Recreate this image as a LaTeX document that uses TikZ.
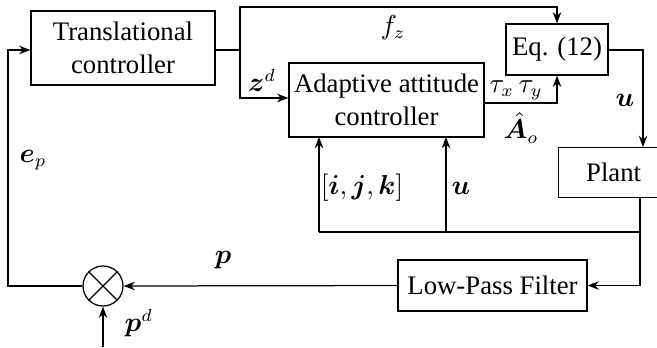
\documentclass[tikz,border=0pt]{standalone}
\usepackage{amsmath}
\usepackage{amssymb}
\usepackage{bm}
\usepackage{fontspec}
\setmainfont{Liberation Serif}
\usetikzlibrary{arrows.meta, positioning}

\begin{document}
\begin{tikzpicture}[
    x=0.4pt, y=-0.4pt,
    font=\fontsize{10.7}{13.2}\selectfont,
    block/.style={rectangle, draw, line width=0.5pt, align=center, inner sep=0pt},
    arrow/.style={-{Stealth[length=4.5pt, width=3.4pt]}, line width=0.5pt},
    wire/.style={line width=0.5pt},
    lbl/.style={inner sep=0pt},
]
    \useasboundingbox (0,0) rectangle (657,347);

    % blocks
    \node[block, minimum width=73.6pt, minimum height=29.6pt] (trans) at (123,48) {Translational\\controller};
    \node[block, minimum width=78pt, minimum height=29.6pt] (adapt) at (386.5,100) {Adaptive attitude\\controller};
    \node[block, minimum width=40.8pt, minimum height=20.4pt] (eq) at (557,49.5) {Eq. (12)};
    \node[block, minimum width=44pt, minimum height=20pt, anchor=north west] (plant) at (558,147) {Plant};
    \node[block, minimum width=75.6pt, minimum height=20.4pt] (lpf) at (492.5,285.5) {Low-Pass Filter};
    \node[circle, draw, line width=0.5pt, minimum size=16pt, inner sep=0pt] (sum) at (103,286) {};
    \draw[line width=0.5pt] (sum.north west) -- (sum.south east) (sum.north east) -- (sum.south west);

    % junctions
    \coordinate (split) at (240,50);
    \coordinate (tap) at (640,232);

    % forward path
    \draw[wire] (trans.east |- split) -- (split);
    \draw[arrow] (split) |- (240,7) -| (eq.north);
    \draw[arrow] (split) |- (adapt.west |- 0,98);
    \draw[arrow] (adapt.east |- 0,103) -| (eq.south);
    \draw[arrow] (eq.east |- 0,50) -| (plant.north -| 643,0);

    % feedback
    \draw[arrow] (plant.south -| tap) |- (lpf.east);
    \draw[wire] (tap) -- (319,232);
    \draw[arrow] (319,232) -- (319,137);
    \draw[arrow] (446,232) -- (446,137);
    \draw[arrow] (lpf.west) -- (sum.east);
    \draw[arrow] (sum.west) -| (8,50) -- (trans.west |- 0,50);
    \draw[arrow] (103,347) -- (sum.south);

    % labels
    \node[lbl] at (393,28) {$f_z$};
    \node[lbl] at (262,80) {$\bm{z}^d$};
    \node[lbl] at (516,90) {$\tau_x\,\tau_y$};
    \node[lbl] at (521,128) {$\hat{\bm{A}}_o$};
    \node[lbl] at (625,100) {$\bm{u}$};
    \node[lbl] at (33,160) {$\bm{e}_p$};
    \node[lbl] at (362,188) {$[\bm{i},\bm{j},\bm{k}]$};
    \node[lbl] at (461,188) {$\bm{u}$};
    \node[lbl] at (223,260) {$\bm{p}$};
    \node[lbl] at (139,323) {$\bm{p}^d$};
\end{tikzpicture}
\end{document}
